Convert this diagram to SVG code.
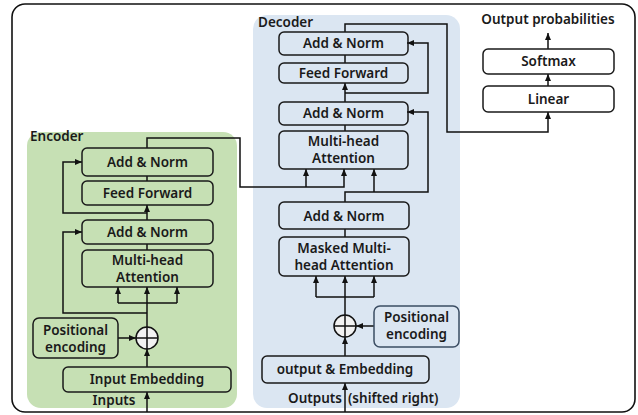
<svg xmlns="http://www.w3.org/2000/svg" width="638" height="415" viewBox="0 0 638 415">
<defs>
<marker id="ah" markerUnits="userSpaceOnUse" markerWidth="8" markerHeight="8" viewBox="0 0 8 8" refX="7" refY="4" orient="auto">
<path d="M0,1 L7,4 L0,7 Z" fill="#111"/>
</marker>
<style>
.box{fill:none;stroke:#1a1a1a;stroke-width:1.5}
.pe2{fill:none;stroke:#3b4d63;stroke-width:1.5}
.t{font-family:"Noto Sans","Open Sans",sans-serif;font-weight:600;font-size:13.5px;fill:#1a1a1a;text-anchor:middle}
.lbl{font-family:"Noto Sans","Open Sans",sans-serif;font-weight:600;font-size:13.5px;fill:#1a1a1a}
.c{fill:none;stroke:#111;stroke-width:1.5}
.a{marker-end:url(#ah)}
</style>
</defs>
<rect width="638" height="415" fill="#fff"/>
<rect x="12" y="4" width="623" height="408" rx="13" fill="none" stroke="#111" stroke-width="1.6"/>
<rect id="encoder-panel" x="27" y="132" width="210" height="276" rx="14" fill="#c6e0b4"/>
<rect id="decoder-panel" x="253" y="15" width="207" height="393" rx="14" fill="#dbe6f2"/>
<text class="lbl" x="30" y="141">Encoder</text>
<text class="lbl" x="258" y="27">Decoder</text>

<g id="connectors">
<path class="c a" d="M147 412 V392"/>
<path class="c a" d="M147 367 V349"/>
<path class="c a" d="M118 338 H136"/>
<path class="c" d="M147 327 V303"/>
<path class="c a" d="M147 303 V287"/>
<path class="c a" d="M118 303 V287"/>
<path class="c a" d="M177 303 V287"/>
<path class="c" d="M118 303 H177"/>
<path class="c a" d="M147 313 H63 V232 H82"/>
<path class="c a" d="M147 220 V205"/>
<path class="c a" d="M147 213 H63 V162 H82"/>
<path class="c" d="M147 250 V244"/>
<path class="c" d="M147 181 V176"/>
<path class="c a" d="M147 148 V138 H240 V187 H344 V169"/>
<path class="c a" d="M306 187 V169"/>
<path class="c a" d="M345 412 V383"/>
<path class="c a" d="M345 356 V337"/>
<path class="c a" d="M374 326 H356"/>
<path class="c" d="M345 315 V297 M316 297 H374"/>
<path class="c a" d="M316 297 V276"/>
<path class="c a" d="M345 297 V276"/>
<path class="c a" d="M374 297 V276"/>
<path class="c" d="M345 237 V229"/>
<path class="c a" d="M345 202 V192 H428 V112 H407"/>
<path class="c a" d="M374 192 V169"/>
<path class="c" d="M345 131 V125"/>
<path class="c a" d="M345 102 V83"/>
<path class="c a" d="M345 93 H428 V43 H407"/>
<path class="c" d="M345 63 V55"/>
<path class="c a" d="M345 32 V24 H447 V132 H548 V112"/>
<path class="c a" d="M548 86 V74"/>
<path class="c a" d="M548 49 V33"/>
</g>

<g id="enc-addnorm1"><rect class="box" x="82" y="148" width="131" height="28" rx="5"/><text class="t" x="147.5" y="167">Add &amp; Norm</text></g>
<g id="enc-ff"><rect class="box" x="82" y="181" width="131" height="24" rx="5"/><text class="t" x="147.5" y="198">Feed Forward</text></g>
<g id="enc-addnorm2"><rect class="box" x="82" y="220" width="131" height="24" rx="5"/><text class="t" x="147.5" y="237">Add &amp; Norm</text></g>
<g id="enc-mha"><rect class="box" x="82" y="250" width="131" height="37" rx="5"/><text class="t" x="147.5" y="265">Multi-head</text><text class="t" x="147.5" y="282">Attention</text></g>
<g id="enc-pe"><rect class="box" x="33" y="318" width="85" height="40" rx="6"/><text class="t" x="75.5" y="335">Positional</text><text class="t" x="75.5" y="352">encoding</text></g>
<g id="enc-add"><circle cx="147" cy="338" r="11" fill="#f2f2f2" stroke="#111" stroke-width="1.5"/><path d="M136 338 H158 M147 327 V349" stroke="#111" stroke-width="1.5"/></g>
<g id="enc-emb"><rect class="box" x="63" y="367" width="168" height="25" rx="5"/><text class="t" x="147" y="384">Input Embedding</text></g>
<g id="inputs"><text class="t" x="114" y="405">Inputs</text></g>

<g id="dec-addnorm1"><rect class="box" x="279" y="32" width="129" height="23" rx="5"/><text class="t" x="343.5" y="48">Add &amp; Norm</text></g>
<g id="dec-ff"><rect class="box" x="279" y="63" width="129" height="20" rx="5"/><text class="t" x="343.5" y="78">Feed Forward</text></g>
<g id="dec-addnorm2"><rect class="box" x="279" y="102" width="129" height="23" rx="5"/><text class="t" x="343.5" y="118">Add &amp; Norm</text></g>
<g id="dec-mha"><rect class="box" x="279" y="131" width="129" height="38" rx="5"/><text class="t" x="343.5" y="146">Multi-head</text><text class="t" x="343.5" y="163">Attention</text></g>
<g id="dec-addnorm3"><rect class="box" x="279" y="202" width="130" height="27" rx="5"/><text class="t" x="344" y="221">Add &amp; Norm</text></g>
<g id="dec-mmha"><rect class="box" x="279" y="237" width="130" height="39" rx="5"/><text class="t" x="344" y="253">Masked Multi-</text><text class="t" x="344" y="270">head Attention</text></g>
<g id="dec-add"><circle cx="345" cy="326" r="11" fill="#f2f2f2" stroke="#111" stroke-width="1.5"/><path d="M334 326 H356 M345 315 V337" stroke="#111" stroke-width="1.5"/></g>
<g id="dec-pe"><rect class="pe2" x="374" y="306" width="85" height="41" rx="6"/><text class="t" x="416.5" y="322">Positional</text><text class="t" x="416.5" y="339">encoding</text></g>
<g id="dec-emb"><rect class="box" x="262" y="356" width="167" height="27" rx="5"/><text class="t" x="345" y="374">output &amp; Embedding</text></g>
<g id="outputs"><text class="t" x="342" y="403" style="text-anchor:end">Outputs</text><text class="t" x="348" y="403" style="text-anchor:start">(shifted right)</text></g>

<g id="softmax"><rect class="box" x="483" y="49" width="131" height="25" rx="5"/><text class="t" x="548.5" y="66">Softmax</text></g>
<g id="linear"><rect class="box" x="483" y="86" width="131" height="26" rx="5"/><text class="t" x="548.5" y="104">Linear</text></g>
<g id="outprob"><text class="t" x="548" y="24">Output probabilities</text></g>
</svg>
